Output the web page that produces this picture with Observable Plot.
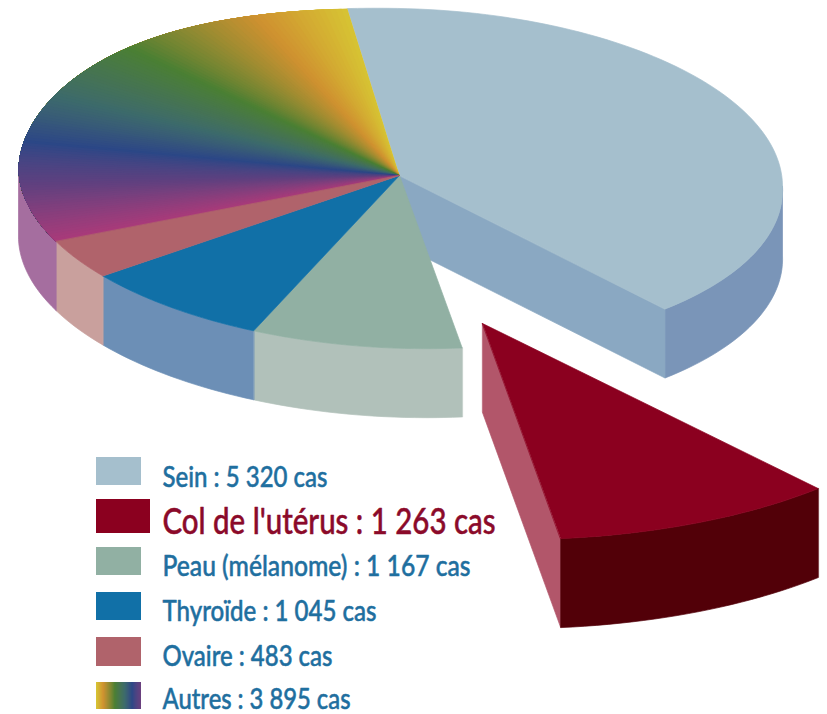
<!DOCTYPE html>
<html lang="fr">
<head>
<meta charset="utf-8">
<script src="https://cdn.jsdelivr.net/npm/d3@7"></script>
<script src="https://cdn.jsdelivr.net/npm/@observablehq/plot@0.6"></script>
<style>html,body{margin:0;padding:0;background:#fff}svg{display:block}</style>
</head>
<body>
<div id="chart"></div>
<script>
const categories = ["Sein", "Col de l'utérus", "Peau (mélanome)", "Thyroïde", "Ovaire", "Autres"];
const cases = [5320, 1263, 1167, 1045, 483, 3895];
const topColors = ["#a5bfcd", "#8b001f", "#91b0a3", "#1170a7", "#b0636b", null];
const wallColors = ["#7a95b8", "#520008", "#b1c1ba", "#6c8fb6", "#c9a09d", "#a56e9f"];
const cutColors = {sein: "#8aa8c2", col: "#b2566a"};
const rainbowStops = [0, 0.13, 0.35, 0.54, 0.68, 0.82, 1];
const rainbowColors = ["#d6c233", "#cf9130", "#4a7f33", "#3c6a6c", "#2b4786", "#60407f", "#a83a7a"];

const W = 827, H = 714;
const total = d3.sum(cases);
const startAngle = -98;
const spans = cases.map(v => v / total * 360);
let acc = startAngle;
const ranges = spans.map(s => { const r = [acc, acc + s]; acc += s; return r; });
const rad = d => d * Math.PI / 180;
const rainbow = d3.scaleLinear().domain(rainbowStops).range(rainbowColors).interpolate(d3.interpolateLab);

const pie = {apex: [399, 175], c: [400, 178], a: 382, b: 8, k: 8, d: 170, depth: 69, bulge: 6};
const cut = {apex: [482, 323], c: [482, 323], a: 485, b: 10, k: 9, d: 216, depth: 89, bulge: 0};
const at = (s, t, dz = 0) => {
  const co = Math.cos(rad(t)), si = Math.sin(rad(t));
  // the reference's rim swells a little on its upper left
  const swell = co < 0 && si < 0 ? s.bulge * Math.sin(rad(2 * t)) ** 2 : 0;
  return [
    s.c[0] + s.a * co + s.b * Math.max(si, 0),
    s.c[1] + s.k * co + s.d * si - swell + dz
  ];
};
const arc = (s, t0, t1, dz = 0) => {
  const n = Math.max(2, Math.ceil(Math.abs(t1 - t0) / 1.5));
  return d3.range(n + 1).map(i => at(s, t0 + (t1 - t0) * i / n, dz));
};
const topFace = (s, t0, t1) => [s.apex, ...arc(s, t0, t1)];
const wall = (s, t0, t1) => [...arc(s, t0, t1), ...arc(s, t1, t0, s.depth)];
const cutFace = (s, t) => { const p = at(s, t), q = at(s, t, s.depth); return [s.apex, p, q, [s.apex[0], s.apex[1] + s.depth]]; };

const polys = [];
const add = (pts, fill, sw = 0.7) => polys.push({pts, fill, sw});

// walls and cut faces first
const R = ranges;
add(wall(pie, Math.max(R[0][0], 0), R[0][1]), wallColors[0]);
add(cutFace(pie, R[0][1]), cutColors.sein);
add(wall(pie, R[2][0], R[2][1]), wallColors[2]);
add(wall(pie, R[3][0], R[3][1]), wallColors[3]);
add(wall(pie, R[4][0], R[4][1]), wallColors[4]);
add(wall(pie, R[5][0], 180), wallColors[5]);
// top faces
add(topFace(pie, R[0][0], R[0][1]), topColors[0]);
add(topFace(pie, R[2][0], R[2][1]), topColors[2]);
add(topFace(pie, R[3][0], R[3][1]), topColors[3]);
// Autres: painted from the Sein boundary onward, each wedge reaching the far end of the slice,
// so that the colour steps leave no seams
const steps = 120;
d3.range(steps).forEach(i => {
  const [a0, a1] = R[5];
  const u = i / (steps - 1);
  add(topFace(pie, a0, a1 - (a1 - a0) * i / steps), rainbow(u), 0);
});
add(topFace(pie, R[4][0], R[4][1]), topColors[4]);
// detached slice
add(cutFace(cut, R[1][1]), cutColors.col);
add(wall(cut, R[1][0], R[1][1]), wallColors[1]);
add(topFace(cut, R[1][0], R[1][1]), topColors[1]);

const rows = polys.flatMap((p, i) => p.pts.map(([x, y]) => ({x, y, id: i, fill: p.fill, sw: p.sw})));

// legend
const fmt = v => d3.format(",")(v).replace(/,/g, " ");
const legendOrder = [0, 1, 2, 3, 4, 5];
const boxTop = [457, 499, 547, 592, 637, 682];
const boxBot = [485, 533, 575, 620, 666, 709];
const boxRight = [141, 150, 141, 141, 141, 141];
const baseline = [486, 533, 575, 620, 665, 708];
const labelWidth = [165, 333, 308, 214, 170, 188];
const legend = legendOrder.map(i => ({
  i, label: `${categories[i]} : ${fmt(cases[i])} cas`,
  y1: boxTop[i], y2: boxBot[i], x2: boxRight[i], base: baseline[i], w: labelWidth[i],
  fill: i === 5 ? "none" : topColors[i]
}));
const swN = 45;
const rainbowSwatch = d3.range(swN).map(i => ({
  x1: 96 + 45 * i / swN, x2: i === swN - 1 ? 141 : 96 + 45 * (i + 1) / swN + 1,
  y1: boxTop[5], y2: boxBot[5], fill: rainbow(i / (swN - 1) * 0.84)
}));

// Condense each label to the reference's width
const fitText = (index, scales, values, dims, context, next) => {
  const g = next(index, scales, values, dims, context);
  d3.select(g).selectAll("text").each(function (i) {
    this.setAttribute("textLength", legend[i].w);
    this.setAttribute("lengthAdjust", "spacingAndGlyphs");
  });
  return g;
};

const chart = Plot.plot({
  width: W, height: H,
  margin: 0,
  x: {domain: [0, W], range: [0, W], axis: null},
  y: {domain: [0, H], range: [0, H], axis: null},
  color: {type: "identity"},
  style: {background: "#fff"},
  marks: [
    Plot.line(rows, {x: "x", y: "y", z: "id", fill: "fill", stroke: "fill", strokeWidth: "sw", curve: "linear-closed"}),
    Plot.rect(legend.filter(d => d.i !== 5), {x1: 96, x2: "x2", y1: "y1", y2: "y2", fill: "fill"}),
    Plot.rect(rainbowSwatch, {x1: "x1", x2: "x2", y1: "y1", y2: "y2", fill: "fill"}),
    Plot.text(legend, {
      x: 162, y: "base", text: "label", textAnchor: "start", lineAnchor: "bottom",
      fontFamily: "Lato, Liberation Sans", fontWeight: 500,
      fontSize: d => d.i === 1 ? 36 : 28,
      fill: d => d.i === 1 ? "#8b0a2a" : "#1f6f9f",
      stroke: d => d.i === 1 ? "#8b0a2a" : "#1f6f9f",
      strokeWidth: 0.5,
      render: fitText
    })
  ]
});
document.getElementById("chart").append(chart);
</script>
</body>
</html>
